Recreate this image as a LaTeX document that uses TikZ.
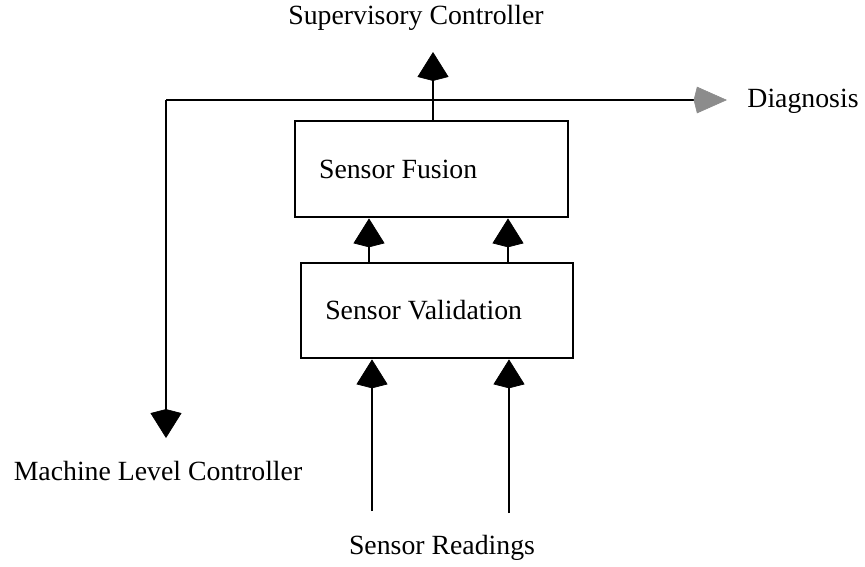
\documentclass[tikz,border=0pt]{standalone}
\usepackage{fontspec}
\setmainfont{Liberation Serif}
\usetikzlibrary{arrows.meta}
\begin{document}
\begin{tikzpicture}[x=0.45pt,y=-0.45pt,
  font=\fontsize{12.5}{15}\selectfont,
  line width=1.25pt,
  box/.style={draw,rectangle,inner sep=0pt},
  lbl/.style={inner sep=0pt},
  arr/.style={-{Kite[length=13pt,width=14pt,inset=1.8pt,line width=0.3pt]}},
  garr/.style={-{Kite[length=15pt,width=12pt,inset=1.5pt,color=black!45,fill=black!45,line width=0.3pt]}}]
\useasboundingbox (0,0) rectangle (865,566);
\node[box,minimum width=122.85pt,minimum height=43.2pt] (fusion) at (431.5,169) {Sensor Fusion\hspace*{30pt}};
\node[box,minimum width=122.4pt,minimum height=42.75pt] (valid) at (437,310.5) {Sensor Validation\hspace*{12pt}};
\node[lbl] (sup) at (416,18) {Supervisory Controller};
\node[lbl] (diag) at (803,101) {Diagnosis};
\node[lbl] (mlc) at (158,471) {Machine Level Controller};
\node[lbl] (readings) at (442,548) {Sensor Readings};
\coordinate (suptip) at (433,52);
\coordinate (hl) at (166,100);
\coordinate (hr) at (727,100);
\coordinate (mlctip) at (166,438);
\coordinate (r1) at (372,511);
\coordinate (r2) at (509,513);
% up to supervisory
\draw[arr] (fusion.north -| suptip) -- (suptip);
% horizontal bus
\draw (hl) -- (hr -| fusion.east);
\draw[garr] (hl -| fusion.east) -- (hr);
\draw[arr] (hl) -- (mlctip);
% validation to fusion
\draw[arr] (valid.north -| 369,0) -- (fusion.south -| 369,0);
\draw[arr] (valid.north -| 508,0) -- (fusion.south -| 508,0);
% readings to validation
\draw[arr] (r1) -- (valid.south -| r1);
\draw[arr] (r2) -- (valid.south -| r2);
\end{tikzpicture}
\end{document}
